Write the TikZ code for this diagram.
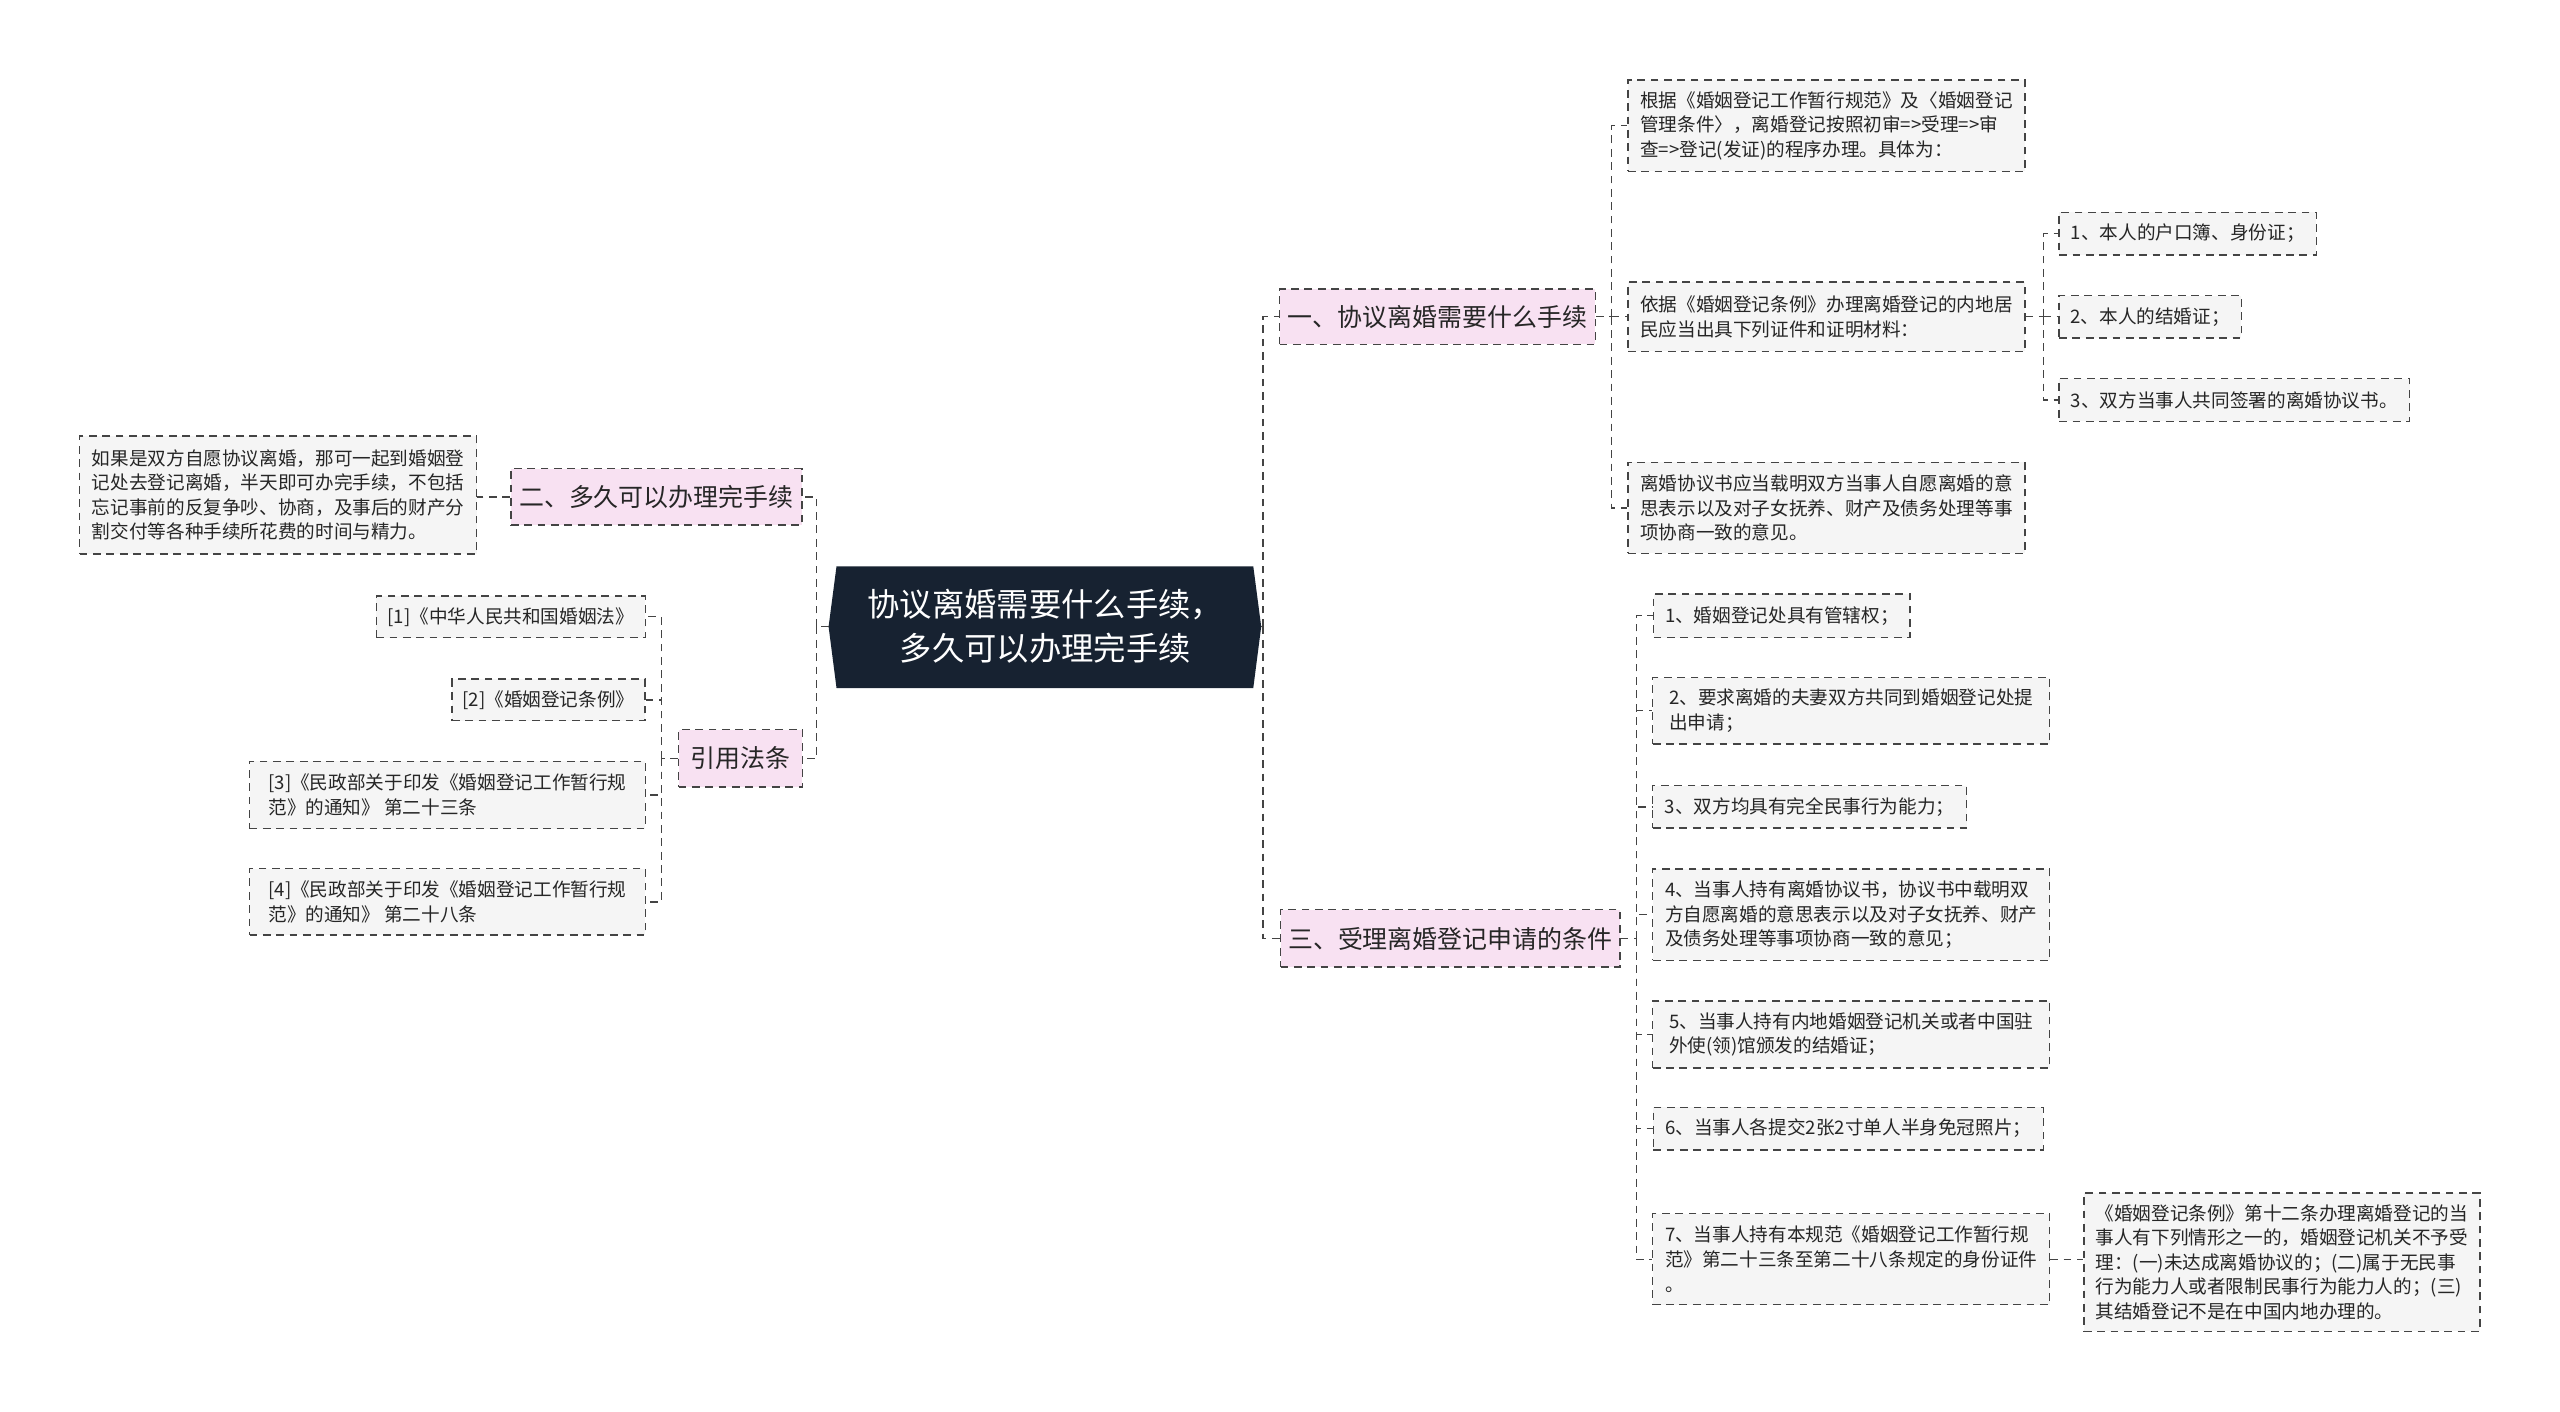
\documentclass[tikz,border=0pt]{standalone}
\usepackage{fontspec}
\setmainfont{Noto Sans CJK SC}
\XeTeXlinebreaklocale "zh"
\definecolor{rootc}{HTML}{172231}
\definecolor{pinkc}{HTML}{F8E1F2}
\definecolor{leafc}{HTML}{F5F5F5}
\definecolor{linec}{HTML}{444444}
\tikzset{
  bx/.style 2 args={draw=linec, dashed, dash pattern=on 2.2pt off 1.6pt, line width=0.4pt, minimum width=0.99*#1cm, minimum height=0.99*#2cm, inner sep=1pt, align=left, text=black!85},
  leaf/.style 2 args={bx={#1}{#2}, fill=leafc, font=\fontsize{5.3pt}{7.0pt}\selectfont},
  lvl/.style 2 args={bx={#1}{#2}, fill=pinkc, font=\fontsize{7.1pt}{9pt}\selectfont},
  conn/.style={draw=linec, dashed, dash pattern=on 2.2pt off 1.6pt, line width=0.4pt},
}
\begin{document}
\begin{tikzpicture}[x=0.0099cm,y=-0.0099cm]
\useasboundingbox[fill=white] (0,0) rectangle (2586,1426);
% root
\fill[rootc] (845,572) -- (1266,572) -- (1274,633) -- (1266,695) -- (845,695) -- (837,633) -- cycle;
\node[text=white, align=center, font=\fontsize{9.2pt}{12.5pt}\selectfont] (root) at (1056,633) {协议离婚需要什么手续，\\ 多久可以办理完手续};
\coordinate (rE) at (1274,633);
\coordinate (rW) at (837,633);
% level 1
\node[lvl={3.19}{0.56}] (A) at (1452,320) {一、协议离婚需要什么手续};
\node[lvl={3.43}{0.58}] (B) at (1465,948) {三、受理离婚登记申请的条件};
\node[lvl={2.94}{0.57}] (C) at (663,502) {二、多久可以办理完手续};
\node[lvl={1.25}{0.58}] (D) at (748,766) {引用法条};
% A children
\node[leaf={4.01}{0.92}] (A1) at (1845,127) {根据《婚姻登记工作暂行规范》及〈婚姻登记\\管理条件〉，离婚登记按照初审=>受理=>审\\查=>登记(发证)的程序办理。具体为：};
\node[leaf={4.01}{0.70}] (A2) at (1845,320) {依据《婚姻登记条例》办理离婚登记的内地居\\民应当出具下列证件和证明材料：};
\node[leaf={4.01}{0.92}] (A3) at (1845,513) {离婚协议书应当载明双方当事人自愿离婚的意\\思表示以及对子女抚养、财产及债务处理等事\\项协商一致的意见。};
\node[leaf={2.60}{0.43}] (A2a) at (2210,236) {1、本人的户口簿、身份证；};
\node[leaf={1.84}{0.43}] (A2b) at (2172,320) {2、本人的结婚证；};
\node[leaf={3.54}{0.43}] (A2c) at (2257,404) {3、双方当事人共同签署的离婚协议书。};
% B children
\node[leaf={2.59}{0.44}] (B1) at (1800,622) {1、婚姻登记处具有管辖权；};
\node[leaf={4.01}{0.67}] (B2) at (1870,718) {2、要求离婚的夫妻双方共同到婚姻登记处提\\出申请；};
\node[leaf={3.17}{0.43}] (B3) at (1828,815) {3、双方均具有完全民事行为能力；};
\node[leaf={4.01}{0.92}] (B4) at (1870,924) {4、当事人持有离婚协议书，协议书中载明双\\方自愿离婚的意思表示以及对子女抚养、财产\\及债务处理等事项协商一致的意见；};
\node[leaf={4.01}{0.68}] (B5) at (1870,1045) {5、当事人持有内地婚姻登记机关或者中国驻\\外使(领)馆颁发的结婚证；};
\node[leaf={3.94}{0.43}] (B6) at (1867,1140) {6、当事人各提交2张2寸单人半身免冠照片；};
\node[leaf={4.01}{0.92}] (B7) at (1870,1272) {7、当事人持有本规范《婚姻登记工作暂行规\\范》第二十三条至第二十八条规定的身份证件\\。};
\node[leaf={4.00}{1.40}] (B7a) at (2305,1275) {《婚姻登记条例》第十二条办理离婚登记的当\\事人有下列情形之一的，婚姻登记机关不予受\\理：(一)未达成离婚协议的；(二)属于无民事\\行为能力人或者限制民事行为能力人的；(三)\\其结婚登记不是在中国内地办理的。};
% C child
\node[leaf={4.01}{1.19}] (C1) at (281,500) {如果是双方自愿协议离婚，那可一起到婚姻登\\记处去登记离婚，半天即可办完手续，不包括\\忘记事前的反复争吵、协商，及事后的财产分\\割交付等各种手续所花费的时间与精力。};
% D children
\node[leaf={2.72}{0.42}] (D1) at (516,623) {[1]《中华人民共和国婚姻法》};
\node[leaf={1.95}{0.42}] (D2) at (554,707) {[2]《婚姻登记条例》};
\node[leaf={4.00}{0.68}] (D3) at (452,803) {[3]《民政部关于印发《婚姻登记工作暂行规\\范》的通知》 第二十三条};
\node[leaf={4.00}{0.67}] (D4) at (452,911) {[4]《民政部关于印发《婚姻登记工作暂行规\\范》的通知》 第二十八条};
% junctions
\coordinate (jR) at (1276,633);
\coordinate (jL) at (825,633);
\coordinate (jA) at (1628,320);
\coordinate (jA2) at (2064,320);
\coordinate (jB) at (1653,948);
\coordinate (jD) at (668,766);
% connectors
\draw[conn] (rE) -- (jR);
\draw[conn] (jR) |- (A.west);
\draw[conn] (jR) |- (B.west);
\draw[conn] (rW) -- (jL);
\draw[conn] (jL) |- (C.east);
\draw[conn] (jL) |- (D.east);
\draw[conn] (A.east) -- (jA);
\foreach \n in {A1,A2,A3} \draw[conn] (jA) |- (\n.west);
\draw[conn] (A2.east) -- (jA2);
\foreach \n in {A2a,A2b,A2c} \draw[conn] (jA2) |- (\n.west);
\draw[conn] (B.east) -- (jB);
\foreach \n in {B1,B2,B3,B4,B5,B6,B7} \draw[conn] (jB) |- (\n.west);
\draw[conn] (B7.east) -- (B7a.west |- B7.east);
\draw[conn] (C.west) -- (C1.east |- C.west);
\draw[conn] (D.west) -- (jD);
\foreach \n in {D1,D2,D3,D4} \draw[conn] (jD) |- (\n.east);
\end{tikzpicture}
\end{document}
